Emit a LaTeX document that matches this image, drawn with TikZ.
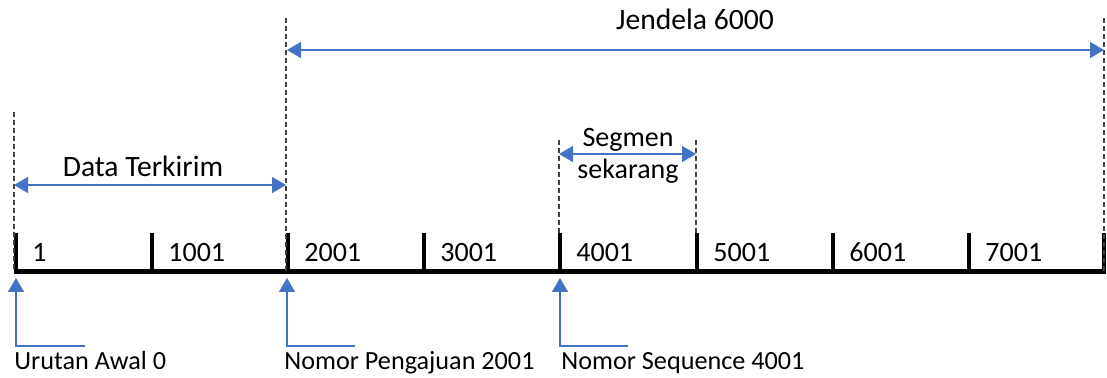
\documentclass[tikz,border=0pt]{standalone}
\usepackage{fontspec}
\setmainfont{Carlito}
\usetikzlibrary{arrows.meta}
\definecolor{ablue}{HTML}{4472C4}
\definecolor{dgray}{HTML}{404040}
\begin{document}
\begin{tikzpicture}[x=0.5pt,y=-0.5pt,
  guide/.style={dgray,line width=0.7pt,dash pattern=on 2.5pt off 1.5pt},
  span/.style={ablue,line width=0.8pt,{Triangle[length=7pt,width=8pt]}-{Triangle[length=7pt,width=8pt]}},
  pointer/.style={ablue,line width=0.6pt,-{Triangle[length=7pt,width=8pt]}},
  lbl/.style={font=\fontsize{14}{17}\selectfont,inner sep=0pt,anchor=base west},
  blbl/.style={font=\fontsize{13.1}{16}\selectfont,inner sep=0pt,anchor=base west},
  clbl/.style={font=\fontsize{14}{17}\selectfont,inner sep=0pt,anchor=base},
  tlbl/.style={font=\fontsize{14.8}{18}\selectfont,inner sep=0pt,anchor=base},
  axisline/.style={black,line width=2.5pt},
  tickmark/.style={black,line width=2.2pt}]
\useasboundingbox (0,0) rectangle (1107,378);
% axis
\coordinate (a0) at (14,272);
\coordinate (a1) at (1106,272);
\draw[axisline] (a0) -- (a1);
% ticks and number labels
\foreach \i/\x/\t in {0/16/1,1/152/1001,2/288/2001,3/424/3001,4/560/4001,5/697/5001,6/833/6001,7/969/7001}{
  \coordinate (tt\i) at (\x,233);
  \coordinate (tb\i) at (\x,272);
  \draw[tickmark] (tt\i) -- (tb\i);
  \node[lbl] (n\i) at (\x+16,262) {\t};
}
\coordinate (tt8) at (1104,233);
\coordinate (tb8) at (1104,272);
\draw[tickmark] (tt8) -- (tb8);
% dashed guides
\coordinate (g0t) at (14,112);   \coordinate (g0b) at (14,272);
\coordinate (g1t) at (286,18);   \coordinate (g1b) at (286,272);
\coordinate (g2t) at (559,140);  \coordinate (g2b) at (559,233);
\coordinate (g3t) at (696,140);  \coordinate (g3b) at (696,233);
\coordinate (g4t) at (1104,18);  \coordinate (g4b) at (1104,272);
\draw[guide] (g0t) -- (g0b);
\draw[guide] (g1t) -- (g1b);
\draw[guide] (g2t) -- (g2b);
\draw[guide] (g3t) -- (g3b);
\draw[guide] (g4t) -- (g4b);
% spans
\coordinate (jL) at (287,50);  \coordinate (jR) at (1104,50);
\draw[span] (jL) -- (jR);
\node[tlbl] (jendela) at (695,30) {Jendela 6000};
\coordinate (dL) at (14,185);  \coordinate (dR) at (286,185);
\draw[span] (dL) -- (dR);
\node[tlbl] (data) at (143,177) {Data Terkirim};
\coordinate (sL) at (559,154); \coordinate (sR) at (696,154);
\draw[span] (sL) -- (sR);
\node[clbl] (seg1) at (628,147) {Segmen};
\node[clbl] (seg2) at (628,179) {sekarang};
% pointers
\coordinate (p0) at (16,278);  \coordinate (e0) at (85,346);
\coordinate (p1) at (287,278); \coordinate (e1) at (355,346);
\coordinate (p2) at (560,278); \coordinate (e2) at (628,346);
\draw[pointer] (e0) -| (p0);
\draw[pointer] (e1) -| (p1);
\draw[pointer] (e2) -| (p2);
\node[blbl] (l0) at (14,370) {Urutan Awal 0};
\node[blbl] (l1) at (284,370) {Nomor Pengajuan 2001};
\node[blbl] (l2) at (561,370) {Nomor Sequence 4001};
\end{tikzpicture}
\end{document}
